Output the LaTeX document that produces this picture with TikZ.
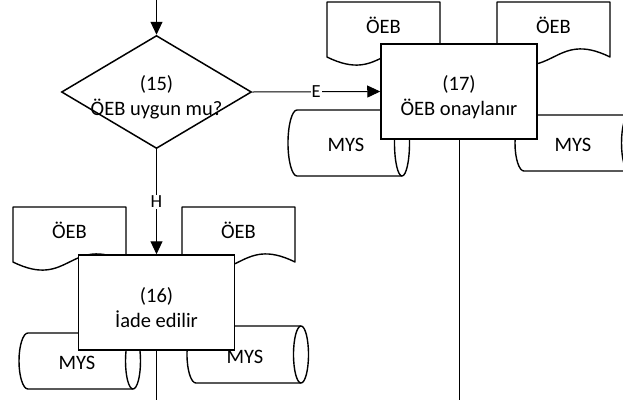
\documentclass[tikz,border=0pt]{standalone}
\usepackage{fontspec}
\setmainfont{Carlito}
\usetikzlibrary{shapes.geometric,arrows.meta}
\tikzset{
  shp/.style={draw=black, line width=1.4pt, fill=white, line join=round},
  txt/.style={font=\fontsize{20.5}{25}\selectfont, inner sep=0pt},
  proc/.style={draw=black, line width=1.5pt, fill=white, minimum width=156pt,
    minimum height=95pt, align=center, inner sep=0pt,
    font=\fontsize{20.5}{25}\selectfont},
  decision/.style={diamond, draw=black, line width=1.5pt, fill=white,
    minimum width=190pt, minimum height=113pt, inner sep=0pt, align=center,
    font=\fontsize{20.5}{25}\selectfont},
  conn/.style={line width=1pt},
  arr/.style={conn, -{Triangle[length=13pt,width=12pt]}},
  lbl/.style={fill=white, inner sep=1pt, font=\fontsize{18.5}{20}\selectfont},
}
\newcommand\toppad{\rule{0pt}{26pt}}
% document shape: #1 name, #2 left, #3 top, #4 text
\newcommand\docshp[4]{%
  \draw[shp] (#2,#3) -- (#2+113,#3) -- (#2+113,#3+55)
    .. controls (#2+56.5,#3+55-28) and (#2+56.5,#3+55+28) .. (#2,#3+55) -- cycle;
  \node[txt] (#1) at (#2+56.5,#3+23) {#4};
}
% horizontal cylinder: #1 name, #2 left, #3 top, #4 height, #5 text
\newcommand\cylshp[5]{%
  \pgfmathsetmacro\cylhalf{#4/2}%
  \draw[shp] (#2+9,#3) -- (#2+114,#3)
    arc[start angle=90, end angle=-90, x radius=7.5pt, y radius=\cylhalf pt]
    -- (#2+9,#3+#4)
    arc[start angle=270, end angle=90, x radius=9pt, y radius=\cylhalf pt] -- cycle;
  \draw[shp, fill=none] (#2+114,#3)
    arc[start angle=90, end angle=270, x radius=7.5pt, y radius=\cylhalf pt];
  \node[txt] (#1) at (#2+58,#3+\cylhalf+2) {#5};
}
\begin{document}
\begin{tikzpicture}[x=1pt, y=-1pt]
  \useasboundingbox (0,0) rectangle (623,400);
  \clip (0,0) rectangle (623,400);
  % documents
  \docshp{doc17a}{327}{2}{ÖEB}
  \docshp{doc17b}{497}{2}{ÖEB}
  \docshp{doc16a}{13}{207}{ÖEB}
  \docshp{doc16b}{182}{207}{ÖEB}
  % storages
  \cylshp{mys17a}{288}{110}{66}{MYS}
  \cylshp{mys17b}{515}{115}{56}{MYS}
  \cylshp{mys16a}{19}{333}{56}{MYS}
  \cylshp{mys16b}{187}{326}{57}{MYS}
  % process nodes
  \node[decision] (d15) at (156.5,92)
    {\makebox[0pt]{\toppad(15)}\\\makebox[0pt]{ÖEB uygun mu?}};
  \node[proc] (b17) at (459,91.5) {\toppad(17)\\ÖEB onaylanır};
  \node[proc] (b16) at (156.5,302.5) {\toppad(16)\\İade edilir};
  % connectors
  \coordinate (in15) at (156.5,0);
  \coordinate (out16) at (156.5,400);
  \coordinate (out17) at (459,400);
  \draw[arr] (in15) -- (d15.north);
  \draw[arr] (d15.east) -- node[lbl] {E} (b17.west);
  \draw[arr] (d15.south) -- node[lbl] {H} (b16.north);
  \draw[conn] (b16.south) -- (out16);
  \draw[conn] (b17.south) -- (out17);
\end{tikzpicture}
\end{document}
